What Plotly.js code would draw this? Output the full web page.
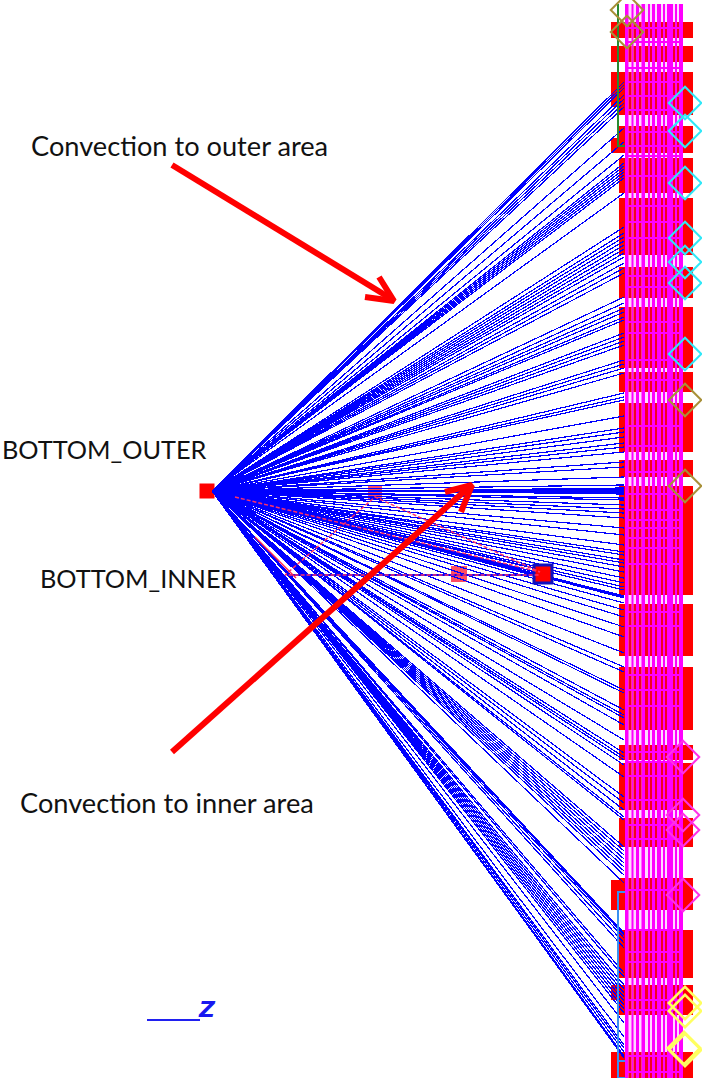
<!DOCTYPE html>
<html><head><meta charset="utf-8">
<script src="https://cdn.plot.ly/plotly-3.0.1.min.js"></script>
<style>html,body{margin:0;padding:0;background:#fff}#g{width:702px;height:1078px}</style></head><body><div id="g"></div>
<script>
// --- values (image pixel coordinates) ---
const apexX = 212, apexY = 491, wallX = 624;
const upperEnds = [82,85,88,95,99,103,107,128,142,155,163,166,169,172,175,178,193,
  227,233,237,241,245,249,253,257,263,268,273,297,303,308,312,317,320,333,337,341,345,360,364,368,373,
  393,397,400,416,428,432,437,443,447,452,462,467,477,485];
const lowerEnds = [500,505,509,513,518,528,535,545,552,555,560,563,567,572,578,583,587,590,596,597,598,603,610,617,627,637,653,667,672,690,693,710,715,718,725,
  740,753,757,760,765,777,797,803,810,817,820,847,851,855,859,863,867,871,875,883,
  933,934,935,938,943,948,973,977,985,989,993,997,1001,1005,1009,1013,1023,1037,1045,1048,1052,1056,1058];
const hubX = 375, hubY = 491;
const hubEnds = [488,489,490,491,492,493,494];
const innerEnds = [570,574,578];
const innerX = 543;
const rowX = [290,540], rowY = [575,575];
const wallTop = 4, wallBottom = 1078;
const blockRows = [[22,38],[46,62],[72,115],[126,153],[158,193],[198,255],[267,298],[307,368],[372,392],[403,452],[460,477],[486,595],[604,656],[667,730],[745,760],[763,810],[818,847],[878,910],[930,978],[985,1015],[1052,1078]];
const stubRows = [[22,38],[46,62],[72,107],[138,153],[880,910],[985,1000],[1052,1078]];
const stripeEdges = [[628.5,631.5],[633.5,636],[639,641.5],[645,648],[650,652],[655,657],[661,663],[665,667],[673,675],[677,679]];
const magentaRows = [28,42,68,82,96,110,132,146,156,176,206,222,238,276,287,322,333,360,380,426,446,472,494,510,520,528,538,548,564,612,626,675,690,706,752,762,776,800,825,839,890,930,952,962,1000,1010,1056,1072];
const nodeX = [375,459], nodeY = [492,574], nodeSize = [15,17];
const mainNodeX = [543], mainNodeY = [574];
const sourceX = [207], sourceY = [491];
const cyanX = [685,685,685,685,685,685,685], cyanY = [103,131,183,238,262,283,354];
const oliveX = [627,627,685,685], oliveY = [10,32,400,486];
const pinkX = [683,683,683,683], pinkY = [757,815,830,895];
const yellowX = [685,685,685,684], yellowY = [1003,1011,1050,1048];
const greenX = [618,618,625], greenY = [4,146,146];
const skyX = [625,618,618,625,null,618,625], skyY = [892,892,1078,1078,null,1061,1061];
const dashAX = [235,540,375,285,540], dashAY = [497,572,497,575,575];
const shortX = [255,296], shortY = [537,578];
const arrow1X = [172,390], arrow1Y = [165,298], head1X = [379,394,365], head1Y = [277,301,297];
const arrow2X = [172,468], arrow2Y = [752,488], head2X = [445,472,461], head2Y = [492,485,512];
const axisX = [147,200], axisY = [1020,1020];
const labels = ["Convection to outer area","BOTTOM_OUTER","BOTTOM_INNER","Convection to inner area"];
const labelX = [29,0,38,18], labelY = [145,449,578,802], labelSize=[27.2,25.3,25.3,27.2];

function fan(x0,y0,x1,ends){const X=[],Y=[];ends.forEach(e=>{X.push(x0,x1,null);Y.push(y0,e,null)});return {x:X,y:Y};}
const rect=(x0,x1,y0,y1,c)=>({type:'rect',xref:'x',yref:'y',x0,x1,y0,y1,fillcolor:c,line:{width:0},layer:'below'});
const shapes=[];
blockRows.forEach(r=>shapes.push(rect(619,693,r[0],r[1],'#ff0000')));
stubRows.forEach(r=>shapes.push(rect(611,620,r[0],r[1],'#ff0000')));
shapes.push(rect(625,683,wallTop,wallBottom,'#ff00ff'));
stripeEdges.forEach(s=>shapes.push(rect(s[0],s[1],wallTop,wallBottom,'#ffd8ff')));
blockRows.forEach(r=>stripeEdges.forEach(s=>shapes.push(rect(s[0],s[1],r[0],r[1],'#f40020'))));
magentaRows.forEach(y=>shapes.push(rect(625,683,y-1,y+1,'#ff00ff')));

const all=fan(apexX,apexY,wallX,upperEnds.concat(lowerEnds,[491,498]));
const hub=fan(hubX,hubY,wallX,hubEnds);
const inner=fan(apexX,apexY,innerX,innerEnds);
const ln=(x,y,color,width,extra)=>({x,y,mode:'lines',line:{color,width,...(extra||{})},hoverinfo:'skip',showlegend:false});
const dia=(x,y,c,w)=>({x,y,mode:'markers',marker:{symbol:'diamond-open',size:25,color:c,line:{color:c,width:w||2}},hoverinfo:'skip',showlegend:false});
const data=[
 {x:sourceX,y:sourceY,mode:'markers',marker:{symbol:'square',size:15,color:'#ff0000'},hoverinfo:'skip',showlegend:false},
 {x:nodeX,y:nodeY,mode:'markers',marker:{symbol:'square',size:nodeSize,color:'#ff0020'},hoverinfo:'skip',showlegend:false},
 ln(all.x,all.y,'#0000ff',1.2),
 ln(hub.x,hub.y,'#0000ff',1.2),
 ln(inner.x,inner.y,'#0000ff',1.2),
 ln(rowX,rowY,'#0000ff',2),
 {x:mainNodeX,y:mainNodeY,mode:'markers',marker:{symbol:'square',size:18,color:'#ff0000',line:{color:'#1010c0',width:3}},hoverinfo:'skip',showlegend:false},
 ln(dashAX,dashAY,'#ff3068',1.5,{dash:'4px,2px'}),
 ln(shortX,shortY,'#ff2050',1.5),
 ln(greenX,greenY,'#2a8a30',2),
 ln(skyX,skyY,'#3a90f0',2),
 dia(cyanX,cyanY,'#30e8f8'),
 dia(oliveX,oliveY,'#a89038'),
 dia(pinkX,pinkY,'#ff30e8'),
 dia(yellowX,yellowY,'#ffff60',2.5),
 ln(axisX,axisY,'#2020f0',2),
 ln(arrow1X,arrow1Y,'#ff0000',6),
 ln(head1X,head1Y,'#ff0000',6),
 ln(arrow2X,arrow2Y,'#ff0000',6),
 ln(head2X,head2Y,'#ff0000',6)
];
const annotations=labels.map((t,i)=>({text:t,x:labelX[i],y:labelY[i],xref:'x',yref:'y',xanchor:'left',yanchor:'middle',showarrow:false,
  font:{family:'Lato, sans-serif',size:labelSize[i],color:'#111'}}));
annotations.push({text:'<b><i>Z</i></b>',x:207,y:1009,xref:'x',yref:'y',showarrow:false,xanchor:'center',yanchor:'middle',font:{family:'DejaVu Sans',size:22,color:'#1818f0'}});
const axis={visible:false,fixedrange:true,showgrid:false,zeroline:false};
Plotly.newPlot('g',data,{width:702,height:1078,margin:{l:0,r:0,t:0,b:0},paper_bgcolor:'#fff',plot_bgcolor:'#fff',
  xaxis:Object.assign({range:[0,702]},axis),yaxis:Object.assign({range:[1078,0]},axis),shapes,annotations},{displayModeBar:false,staticPlot:true}).then(()=>{
  document.querySelectorAll('#g .scatterlayer .js-line').forEach(p=>{if(p.style.stroke==='rgb(0, 0, 255)')p.style.shapeRendering='crispEdges';});
});
</script></body></html>
